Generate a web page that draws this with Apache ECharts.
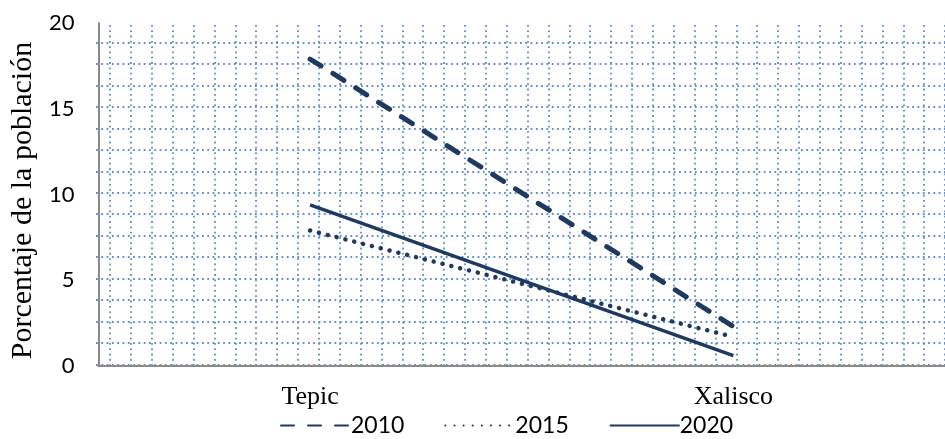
<!DOCTYPE html>
<html>
<head>
<meta charset="utf-8">
<script src="https://cdn.jsdelivr.net/npm/echarts@6/dist/echarts.min.js"></script>
<style>
  html, body { margin: 0; padding: 0; background: #fff; }
  #chart { width: 945px; height: 439px; }
</style>
</head>
<body>
<div id="chart"></div>
<script>
// data
const places = ['Tepic', 'Xalisco'];
const years = ['2010', '2015', '2020'];
const values2010 = [17.9, 2.3];
const values2015 = [7.9, 1.7];
const values2020 = [9.4, 0.6];
const yTicks = [0, 5, 10, 15, 20];

const navy = '#1f3a60';
const dotGrid = {
  color: '#5f8fcf',
  width: 1.8,
  type: [1.8, 3.5]
};

const chart = echarts.init(document.getElementById('chart'));

const option = {
  animation: false,
  grid: [
    // main plot
    { left: 96, top: 23, width: 858, bottom: 73 },
    // vertical dotted grid
    { left: 110, top: 25, width: 860, bottom: 74 },
    // horizontal dotted grid
    { left: 96, top: 42.5, width: 870, bottom: 74.5 }
  ],
  legend: {
    bottom: -3,
    left: 275,
    itemWidth: 70,
    itemHeight: 14,
    itemGap: 40,
    data: years,
    itemStyle: { opacity: 0 },
    textStyle: { fontFamily: 'Lato', fontSize: 23, color: '#000', padding: [0, 0, 0, -5] }
  },
  xAxis: [
    {
      type: 'category',
      gridIndex: 0,
      data: places,
      boundaryGap: true,
      axisLine: { lineStyle: { color: '#8a8a8a', width: 2 } },
      axisTick: { show: false },
      axisLabel: { color: '#000', fontFamily: 'Liberation Serif', fontSize: 26, margin: 18 },
      splitLine: { show: false },
      z: 3
    },
    {
      type: 'value',
      gridIndex: 1,
      min: 0,
      max: 40,
      interval: 1,
      axisLine: { show: false },
      axisTick: { show: false },
      axisLabel: { show: false },
      splitLine: { show: true, lineStyle: dotGrid }
    },
    {
      type: 'value',
      gridIndex: 2,
      min: 0,
      max: 1,
      axisLine: { show: false },
      axisTick: { show: false },
      axisLabel: { show: false },
      splitLine: { show: false }
    }
  ],
  yAxis: [
    {
      type: 'value',
      gridIndex: 0,
      min: yTicks[0],
      max: yTicks[yTicks.length - 1],
      interval: 5,
      name: 'Porcentaje de la población',
      nameLocation: 'middle',
      nameGap: 55,
      nameTextStyle: {
        color: '#000',
        fontFamily: 'Liberation Serif',
        fontSize: 30,
        padding: [0, 12, 0, 0]
      },
      axisLine: { show: true, lineStyle: { color: '#8a8a8a', width: 2 } },
      axisTick: { show: false },
      axisLabel: { color: '#000', fontFamily: 'Lato', fontSize: 22, margin: 24 },
      splitLine: { show: false },
      z: 3
    },
    {
      type: 'value',
      gridIndex: 1,
      min: 0,
      max: 1,
      axisLine: { show: false },
      axisTick: { show: false },
      axisLabel: { show: false },
      splitLine: { show: false }
    },
    {
      type: 'value',
      gridIndex: 2,
      min: 0,
      max: 15,
      interval: 1,
      axisLine: { show: false },
      axisTick: { show: false },
      axisLabel: { show: false },
      splitLine: { show: true, lineStyle: dotGrid }
    }
  ],
  series: [
    {
      name: years[0],
      type: 'line',
      xAxisIndex: 0,
      yAxisIndex: 0,
      data: values2010,
      symbol: 'none',
      color: navy,
      lineStyle: { color: navy, width: 5, type: [13, 14], cap: 'round' },
      z: 5
    },
    {
      name: years[1],
      type: 'line',
      xAxisIndex: 0,
      yAxisIndex: 0,
      data: values2015,
      symbol: 'none',
      color: navy,
      lineStyle: { color: navy, width: 4.5, type: [0.1, 9], cap: 'round' },
      z: 5
    },
    {
      name: years[2],
      type: 'line',
      xAxisIndex: 0,
      yAxisIndex: 0,
      data: values2020,
      symbol: 'none',
      color: navy,
      lineStyle: { color: navy, width: 3.5 },
      z: 5
    }
  ]
};

chart.setOption(option);
</script>
</body>
</html>
